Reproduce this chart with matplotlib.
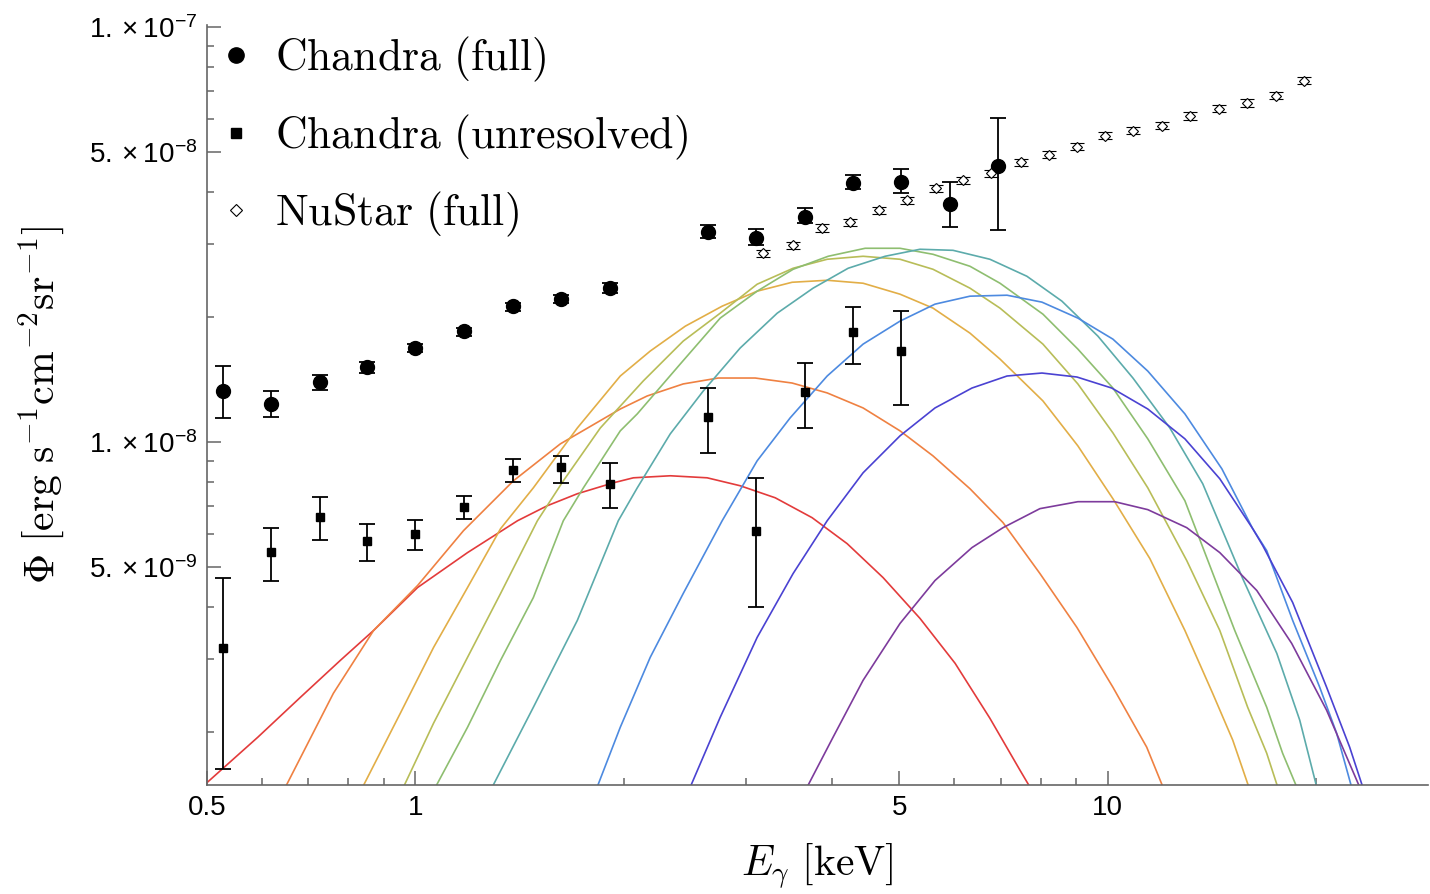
import numpy as np
import matplotlib
matplotlib.use("Agg")
import matplotlib.pyplot as plt
from matplotlib.lines import Line2D

plt.rcParams['font.family'] = ['Liberation Sans', 'DejaVu Sans']
plt.rcParams['mathtext.fontset'] = 'cm'

# Chandra, full diffuse flux (units of 1e-8 erg/s/cm^2/sr)
chandra_E = [0.527, 0.618, 0.727, 0.852, 1.00, 1.177, 1.385, 1.625, 1.911,
             2.648, 3.105, 3.654, 4.286, 5.027, 5.916, 6.94]
chandra_flux = [1.326, 1.234, 1.394, 1.514, 1.683, 1.848, 2.123, 2.207, 2.346,
                3.198, 3.093, 3.474, 4.194, 4.217, 3.734, 4.608]
chandra_hi = [1.523, 1.326, 1.449, 1.557, 1.720, 1.879, 2.159, 2.256, 2.411,
              3.324, 3.251, 3.651, 4.384, 4.532, 4.217, 6.04]
chandra_lo = [1.142, 1.148, 1.334, 1.465, 1.646, 1.798, 2.065, 2.159, 2.281,
              3.093, 2.976, 3.361, 4.056, 3.968, 3.288, 3.233]

# Chandra, unresolved part
unres_E = [0.527, 0.618, 0.727, 0.852, 1.00, 1.177, 1.385, 1.625, 1.911,
           2.648, 3.105, 3.654, 4.286, 5.027]
unres_flux = [0.318, 0.544, 0.660, 0.578, 0.601, 0.698, 0.857, 0.871, 0.793,
              1.148, 0.611, 1.319, 1.838, 1.655]
unres_hi = [0.471, 0.621, 0.738, 0.635, 0.649, 0.742, 0.910, 0.925, 0.890,
            1.348, 0.819, 1.549, 2.111, 2.065]
unres_lo = [0.1627, 0.463, 0.581, 0.515, 0.550, 0.653, 0.801, 0.797, 0.694,
            0.941, 0.401, 1.080, 1.540, 1.227]

# NuSTAR, full
nustar_E = [3.178, 3.512, 3.867, 4.244, 4.673, 5.128, 5.646, 6.176, 6.781, 7.490,
            8.220, 9.022, 9.901, 10.87, 11.96, 13.13, 14.46, 15.87, 17.48, 19.18]
nustar_flux = [2.847, 2.976, 3.270, 3.381, 3.612, 3.817, 4.079, 4.264, 4.433, 4.711,
               4.924, 5.147, 5.470, 5.623, 5.781, 6.109, 6.353, 6.567, 6.826, 7.418]
nustar_err = [0.06, 0.06, 0.07, 0.07, 0.07, 0.08, 0.08, 0.09, 0.09, 0.10,
              0.10, 0.11, 0.11, 0.12, 0.12, 0.13, 0.13, 0.14, 0.14, 0.15]

# model spectra
red_E = [0.501, 0.592, 0.682, 0.779, 0.870, 1.007, 1.189, 1.404, 1.551, 1.713, 1.931,
         2.064, 2.334, 2.638, 2.944, 3.308, 3.740, 4.202, 4.735, 5.354, 6.017, 6.755,
         7.464, 7.716]
red_F = [0.1515, 0.1943, 0.2424, 0.2976, 0.3513, 0.4457, 0.5410, 0.6456, 0.7019, 0.7499,
         0.7968, 0.8192, 0.8285, 0.8192, 0.7839, 0.7333, 0.6566, 0.5685, 0.4710, 0.3755,
         0.2927, 0.2158, 0.1619, 0.1474]

orange_E = [0.649, 0.761, 0.870, 1.007, 1.173, 1.385, 1.619, 1.976, 2.161, 2.436, 2.737,
            3.095, 3.499, 3.932, 4.431, 5.010, 5.591, 6.322, 7.056, 7.978, 9.022, 10.17,
            11.38, 12.01]
orange_F = [0.1474, 0.2478, 0.3513, 0.4507, 0.6109, 0.8057, 0.989, 1.200, 1.290, 1.379,
            1.425, 1.425, 1.386, 1.312, 1.207, 1.063, 0.925, 0.771, 0.639, 0.4817, 0.3572,
            0.2563, 0.1838, 0.1474]

gold_E = [0.839, 0.951, 1.062, 1.189, 1.327, 1.480, 1.713, 1.976, 2.183, 2.453, 2.773,
          3.115, 3.499, 3.932, 4.431, 5.010, 5.591, 6.322, 6.986, 8.058, 9.051, 10.17,
          11.50, 12.92, 14.17, 15.15, 15.98]
gold_F = [0.1474, 0.2220, 0.3197, 0.4457, 0.6177, 0.7750, 1.080, 1.441, 1.655, 1.900,
          2.123, 2.307, 2.424, 2.451, 2.411, 2.269, 2.100, 1.828, 1.583, 1.255, 0.978,
          0.7294, 0.5233, 0.3513, 0.2478, 0.1911, 0.1474]

lime_E = [0.961, 1.062, 1.189, 1.327, 1.500, 1.635, 1.849, 2.133, 2.436, 2.755, 3.115,
          3.511, 3.932, 4.431, 5.010, 5.591, 6.322, 6.986, 8.058, 9.051, 10.17, 11.42,
          13.00, 14.51, 15.92, 16.96, 17.59]
lime_F = [0.1474, 0.2100, 0.3026, 0.4311, 0.6456, 0.8057, 1.080, 1.402, 1.749, 2.042,
          2.398, 2.620, 2.754, 2.800, 2.754, 2.605, 2.346, 2.100, 1.720, 1.379, 1.051,
          0.7750, 0.5176, 0.3513, 0.2294, 0.1778, 0.1474]

green_E = [1.069, 1.189, 1.327, 1.480, 1.635, 1.748, 1.976, 2.091, 2.412, 2.755, 3.115,
           3.511, 3.945, 4.461, 5.010, 5.591, 6.322, 6.986, 8.058, 9.051, 10.17, 11.42,
           12.92, 15.25, 16.96, 17.88, 18.74]
green_F = [0.1474, 0.2053, 0.2976, 0.4217, 0.6456, 0.7750, 1.063, 1.168, 1.540, 1.987,
           2.307, 2.605, 2.800, 2.927, 2.927, 2.831, 2.649, 2.411, 2.031, 1.673, 1.348,
           1.017, 0.7214, 0.3513, 0.2294, 0.1778, 0.1474]

teal_E = [1.291, 1.480, 1.713, 1.963, 2.091, 2.333, 2.604, 2.944, 3.330, 3.752, 4.216,
          4.767, 5.354, 5.975, 6.755, 7.640, 8.583, 9.674, 10.87, 12.29, 13.71, 15.66,
          17.54, 18.93, 20.03]
teal_F = [0.1474, 0.2294, 0.3714, 0.6456, 0.7750, 1.045, 1.326, 1.683, 2.042, 2.346,
          2.620, 2.800, 2.911, 2.894, 2.754, 2.506, 2.183, 1.798, 1.425, 1.080, 0.7926,
          0.4684, 0.3093, 0.2135, 0.1474]

blue_E = [1.830, 1.976, 2.183, 2.436, 2.773, 3.115, 3.476, 3.932, 4.431, 5.010, 5.628,
          6.322, 7.151, 8.032, 9.051, 10.17, 11.42, 12.92, 14.61, 16.19, 16.96, 18.49,
          20.23, 21.40, 22.49]
blue_F = [0.1474, 0.2053, 0.3026, 0.4311, 0.6456, 0.9001, 1.142, 1.441, 1.720, 1.954,
          2.147, 2.244, 2.256, 2.171, 1.987, 1.768, 1.481, 1.168, 0.8612, 0.6177, 0.5470,
          0.3714, 0.2563, 0.1987, 0.1474]

indigo_E = [2.494, 2.755, 3.115, 3.511, 3.932, 4.431, 5.010, 5.628, 6.364, 7.151, 8.032,
            9.022, 10.13, 11.42, 12.92, 14.51, 16.19, 16.74, 18.49, 20.70, 22.35, 23.34]
indigo_F = [0.1474, 0.2170, 0.3379, 0.4817, 0.6456, 0.8424, 1.034, 1.207, 1.348, 1.441,
            1.465, 1.433, 1.348, 1.200, 1.017, 0.8149, 0.6177, 0.5623, 0.4102, 0.2563,
            0.1838, 0.1474]

purple_E = [3.679, 4.010, 4.431, 5.010, 5.628, 6.364, 7.056, 7.978, 9.051, 10.23, 11.42,
            13.00, 14.51, 16.41, 18.43, 20.70, 23.10]
purple_F = [0.1474, 0.1943, 0.2664, 0.3652, 0.4634, 0.5562, 0.6212, 0.6904, 0.7175,
            0.7175, 0.6866, 0.6212, 0.5410, 0.4384, 0.3269, 0.2256, 0.1474]

models = [(red_E, red_F, '#e33b3b'), (orange_E, orange_F, '#ef8142'),
          (gold_E, gold_F, '#e2ae47'), (lime_E, lime_F, '#b8bd58'),
          (green_E, green_F, '#8ebe70'), (teal_E, teal_F, '#5cabab'),
          (blue_E, blue_F, '#4d8ae0'), (indigo_E, indigo_F, '#4a42d2'),
          (purple_E, purple_F, '#7d3b9c')]

scale = 1e-8

fig = plt.figure(figsize=(14.3, 8.94), dpi=100)
ax = fig.add_axes([0.1448, 0.1219, 0.8538, 0.8501])

for E, F, c in models:
    ax.plot(E, np.array(F) * scale, color=c, lw=1.2, zorder=2)

def bars(F, lo, hi):
    F = np.array(F)
    return [(F - np.array(lo)) * scale, (np.array(hi) - F) * scale]

ax.errorbar(chandra_E, np.array(chandra_flux) * scale,
            yerr=bars(chandra_flux, chandra_lo, chandra_hi),
            fmt='o', color='black', ms=10, elinewidth=1.3, capsize=6, capthick=1.3, zorder=4)
ax.errorbar(unres_E, np.array(unres_flux) * scale,
            yerr=bars(unres_flux, unres_lo, unres_hi),
            fmt='s', color='black', ms=6, elinewidth=1.3, capsize=6, capthick=1.3, zorder=4)
ax.errorbar(nustar_E, np.array(nustar_flux) * scale, yerr=np.array(nustar_err) * scale,
            fmt='D', color='black', mfc='white', mec='black', mew=0.8, ms=5,
            elinewidth=1.0, capsize=5, capthick=1.0, zorder=4)

ax.set_xscale('log')
ax.set_yscale('log')
ax.set_xlim(0.5, 29)
ax.set_ylim(1.49e-9, 1.01e-7)

for s in ['top', 'right']:
    ax.spines[s].set_visible(False)
for s in ['left', 'bottom']:
    ax.spines[s].set_color('#666666')
    ax.spines[s].set_linewidth(1.2)

ax.set_xticks([0.5, 1, 5, 10])
ax.set_xticklabels(['0.5', '1', '5', '10'])
ax.set_xticks([0.6, 0.7, 0.8, 0.9, 2, 3, 4, 6, 7, 8, 9, 20], minor=True)
ax.set_xticklabels([], minor=True)
ax.set_yticks([5e-9, 1e-8, 5e-8, 1e-7])
ax.set_yticklabels([r'$\mathregular{5.\times 10^{-9}}$', r'$\mathregular{1.\times 10^{-8}}$',
                    r'$\mathregular{5.\times 10^{-8}}$', r'$\mathregular{1.\times 10^{-7}}$'])
ax.set_yticks([2e-9, 3e-9, 4e-9, 6e-9, 7e-9, 8e-9, 9e-9,
               2e-8, 3e-8, 4e-8, 6e-8, 7e-8, 8e-8, 9e-8], minor=True)
ax.set_yticklabels([], minor=True)
ax.tick_params(which='both', direction='in', color='#666666', labelsize=20, width=1.1)
ax.tick_params(which='major', length=10, pad=7)
ax.tick_params(which='minor', length=5)

ax.set_xlabel(r'$E_\gamma\ [\mathrm{keV}]$', fontsize=30, labelpad=15)
ax.set_ylabel(r'$\Phi\ [\mathrm{erg\ s^{-1}cm^{-2}sr^{-1}}]$', fontsize=30, labelpad=16)

handles = [Line2D([], [], marker='o', ls='none', color='black', ms=11),
           Line2D([], [], marker='s', ls='none', color='black', ms=7),
           Line2D([], [], marker='D', ls='none', color='black', mfc='white', ms=6, mew=0.8)]
labels = [r'$\mathrm{Chandra\ (full)}$', r'$\mathrm{Chandra\ (unresolved)}$',
          r'$\mathrm{NuStar\ (full)}$']
ax.legend(handles, labels, loc='upper left', bbox_to_anchor=(-0.03, 1.039), frameon=False,
          fontsize=31.5, handletextpad=0.3, labelspacing=0.65, handlelength=1.2,
          borderaxespad=0.5)

fig.savefig('out.png', dpi=100)
